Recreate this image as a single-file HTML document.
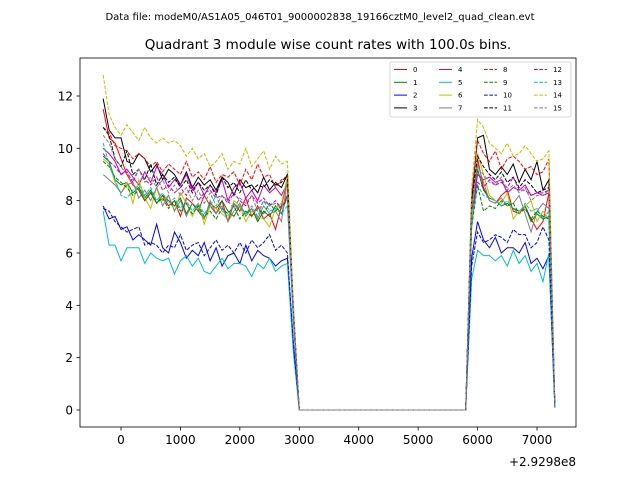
<!DOCTYPE html>
<html><head><meta charset="utf-8">
<style>
body{margin:0;background:#fff;}
svg text{font-family:"DejaVu Sans","Liberation Sans",sans-serif;}
</style></head>
<body>
<svg id="chart" width="640" height="480" xmlns="http://www.w3.org/2000/svg">
<rect width="640" height="480" fill="#fff"/>
<text x="320" y="20" font-size="10" text-anchor="middle">Data file: modeM0/AS1A05_046T01_9000002838_19166cztM0_level2_quad_clean.evt</text>
<text x="328" y="49" font-size="13.5" text-anchor="middle">Quadrant 3 module wise count rates with 100.0s bins.</text>
<g id="plot"></g>
<g id="axes"></g>
<g id="legend"></g>
<text x="576" y="466" font-size="12" text-anchor="end">+2.9298e8</text>
</svg>
<script>
const xTicks = [0,1000,2000,3000,4000,5000,6000,7000];
const yTicks = [0,2,4,6,8,10,12];
const gap = [0,0,0,0,0,0,0,0,0,0,0,0,0,0,0,0,0,0,0,0,0,0,0,0,0,0,0,0,0];
const s0a=[11.5,10.4,10.2,9.6,9.0,8.6,8.4,8.0,8.3,7.9,8.2,7.8,8.0,7.4,8.1,7.9,7.6,8.2,7.8,7.5,8.0,7.2,7.9,7.6,8.1,7.4,7.8,7.3,7.5,6.9,7.8,8.8,3.5];
const s0b=[7.5,9.6,8.5,8.0,7.9,8.2,8.4,7.6,7.5,7.8,7.3,6.9,7.2,8.3,0.2];
const s1a=[9.7,9.5,8.8,8.6,8.7,8.3,8.5,8.1,8.4,7.9,8.2,8.0,7.8,8.1,7.5,7.9,7.6,7.3,7.9,7.7,8.0,7.6,7.4,7.8,7.5,7.7,7.2,7.6,7.4,7.8,7.5,8.2,3.6];
const s1b=[7.0,9.2,8.4,8.1,8.0,7.8,7.9,7.7,7.6,7.8,7.2,7.5,7.3,7.4,0.2];
const s2a=[7.8,7.3,7.4,6.9,7.0,6.5,6.7,6.5,6.3,7.1,6.2,6.0,6.8,6.4,5.8,6.1,5.9,6.4,5.7,6.2,5.5,5.9,6.0,5.6,6.3,5.7,6.1,5.9,5.8,5.5,5.7,5.8,2.5];
const s2b=[5.8,7.2,6.5,6.2,6.6,6.0,6.2,6.2,6.0,6.4,5.6,5.8,5.4,5.9,0.1];
const s3a=[11.9,10.7,10.4,10.4,9.5,9.4,9.8,9.6,9.1,9.4,8.8,9.2,9.0,8.6,9.1,8.5,8.9,8.6,8.8,8.4,8.9,8.7,8.2,8.8,8.5,8.6,8.3,8.9,8.4,8.7,8.5,9.0,3.8];
const s3b=[8.0,10.4,10.5,9.2,9.0,9.3,9.0,9.4,8.7,9.2,8.8,9.5,8.4,8.8,0.2];
const s4a=[10.0,9.8,9.5,9.0,9.2,8.9,8.6,9.1,8.7,9.3,9.0,8.5,8.8,8.6,9.0,8.4,8.7,8.2,8.6,8.3,8.8,8.0,8.5,8.7,8.1,8.4,8.0,8.6,8.3,8.5,8.2,8.7,3.6];
const s4b=[7.5,9.0,8.8,8.9,8.7,8.8,8.3,8.5,8.4,8.6,8.2,8.3,8.2,8.3,0.2];
const s5a=[7.6,6.3,6.3,5.7,6.2,6.2,6.2,5.6,6.0,5.8,5.7,5.8,5.2,5.7,5.9,5.5,5.8,5.3,5.2,5.5,5.8,5.4,5.6,5.6,5.5,5.1,5.6,5.4,5.8,5.3,5.5,5.6,2.2];
const s5b=[5.0,6.1,5.9,5.9,5.7,5.9,5.5,6.1,5.6,5.9,5.3,5.6,4.9,6.0,0.1];
const s6a=[9.6,9.4,8.7,8.3,8.7,7.9,8.8,8.1,7.7,8.5,8.0,8.2,7.6,8.3,7.9,7.4,7.9,7.1,7.8,7.7,7.5,7.3,8.0,7.8,7.2,7.6,7.4,7.3,7.0,7.7,7.9,8.9,3.7];
const s6b=[7.2,9.8,9.0,8.2,8.0,7.9,8.3,7.3,7.6,7.8,8.0,7.2,7.6,7.3,0.2];
const s7a=[9.0,8.8,8.6,8.3,8.6,8.7,8.1,8.4,8.0,8.5,7.8,8.2,7.6,8.0,7.4,7.9,7.7,7.3,8.0,7.5,7.8,7.2,7.6,7.9,7.4,7.7,7.3,7.8,7.5,7.6,7.2,8.8,3.6];
const s7b=[7.8,9.4,8.7,8.0,7.9,8.1,7.8,7.9,8.2,7.5,6.8,7.6,7.9,7.7,0.2];
const s8a=[10.8,10.6,10.1,10.0,9.9,9.6,9.8,9.6,9.3,9.5,9.1,9.4,9.2,9.0,9.5,8.9,9.1,8.8,9.3,8.7,9.0,8.9,9.1,8.6,9.2,8.8,9.4,8.9,9.0,8.5,8.8,8.9,4.0];
const s8b=[8.2,10.3,9.8,9.5,9.9,9.2,9.6,9.7,9.5,9.2,9.3,9.0,9.1,9.6,0.2];
const s9a=[9.5,9.3,8.9,8.7,8.5,8.2,8.4,8.0,8.3,7.9,8.1,7.7,8.0,7.6,7.9,7.5,7.8,7.4,7.6,7.3,7.7,7.5,7.8,7.3,7.6,7.4,7.7,7.5,7.9,7.6,7.8,8.0,3.5];
const s9b=[7.0,8.6,7.6,7.8,7.7,8.0,7.8,7.9,7.5,7.7,7.3,7.6,7.4,7.3,0.2];
const s10a=[7.7,7.6,7.2,7.0,6.8,6.9,7.0,6.3,6.4,6.3,6.0,6.3,6.2,6.7,6.1,6.3,6.4,5.9,6.2,6.5,6.1,6.3,6.0,6.4,6.0,6.5,6.2,6.4,6.7,6.1,6.3,6.0,2.6];
const s10b=[5.5,6.8,6.4,6.5,6.7,6.6,6.4,6.9,6.7,6.7,6.2,6.4,7.0,6.5,0.1];
const s11a=[10.8,10.5,9.6,9.3,9.9,9.0,9.2,8.8,9.4,8.6,9.0,8.7,8.9,8.5,8.8,8.3,8.7,8.4,8.6,8.2,8.9,8.5,8.7,8.3,8.8,8.4,8.6,8.5,8.8,8.6,8.7,9.0,3.8];
const s11b=[8.0,9.7,9.3,9.0,8.8,9.1,8.7,8.9,8.5,8.8,8.6,8.3,8.4,8.5,0.2];
const s12a=[9.8,9.5,9.3,9.0,9.1,8.7,9.2,8.8,8.6,8.9,8.4,8.6,8.3,8.5,8.2,8.6,8.0,8.3,8.4,8.1,8.2,7.9,8.3,8.0,7.8,8.2,7.9,8.1,7.8,8.0,7.7,8.2,3.6];
const s12b=[7.6,8.7,8.5,8.8,8.6,8.7,8.5,8.9,8.4,8.4,8.2,8.3,8.3,8.4,0.2];
const s13a=[10.2,9.4,8.8,8.2,8.1,8.4,8.6,8.2,8.5,8.0,8.3,7.9,8.1,7.7,8.0,7.6,7.9,7.5,7.8,8.2,7.6,7.4,7.9,7.7,7.5,7.8,7.4,8.0,7.6,7.7,7.5,7.8,3.5];
const s13b=[7.2,8.6,8.2,8.1,8.0,7.8,8.0,7.7,7.5,7.9,7.6,7.7,7.3,7.6,0.2];
const s14a=[12.8,11.3,10.8,10.5,10.9,10.6,10.3,10.8,10.4,10.2,10.4,10.2,10.3,10.1,9.7,10.0,9.6,9.8,9.3,9.5,9.8,9.2,9.5,9.4,10.0,9.3,9.6,9.9,9.2,9.7,9.4,9.5,4.1];
const s14b=[8.5,11.1,10.8,10.2,10.0,9.8,10.2,9.7,9.8,10.1,9.8,9.5,9.6,9.9,0.2];
const s15a=[10.5,10.2,9.6,9.3,9.0,8.8,9.2,8.7,8.9,8.5,8.8,8.3,8.6,8.2,8.5,8.0,8.4,7.9,8.3,7.8,8.2,8.0,7.7,8.1,7.9,8.2,7.6,8.0,7.8,7.9,7.7,8.3,3.6];
const s15b=[7.8,9.3,9.0,8.7,8.6,8.9,8.4,8.6,8.3,8.5,8.0,8.2,8.2,8.4,0.2];
const seriesA=[s0a,s1a,s2a,s3a,s4a,s5a,s6a,s7a,s8a,s9a,s10a,s11a,s12a,s13a,s14a,s15a];
const seriesB=[s0b,s1b,s2b,s3b,s4b,s5b,s6b,s7b,s8b,s9b,s10b,s11b,s12b,s13b,s14b,s15b];
const labels=["0","1","2","3","4","5","6","7","8","9","10","11","12","13","14","15"];
const tStart=-300, tStep=100;

const NS="http://www.w3.org/2000/svg";
const colors=["#ff0000","#008000","#0000ff","#000000","#bf00bf","#00bfbf","#bfbf00","#808080"];
const L=80,R=576,T=58,B=427;
const xs=t=>121+(t-0)*(537-121)/7000;
const ys=v=>410-v*(410-96)/12;
function mk(tag,attrs,parent){const e=document.createElementNS(NS,tag);for(const k in attrs)e.setAttribute(k,attrs[k]);parent.appendChild(e);return e;}
const plot=document.getElementById('plot');
const axes=document.getElementById('axes');
const legend=document.getElementById('legend');

seriesA.forEach((a,i)=>{
  const vals=a.concat(gap,seriesB[i]);
  const pts=vals.map((v,j)=>xs(tStart+j*tStep).toFixed(2)+","+ys(v).toFixed(2)).join(" ");
  const pl=mk('polyline',{points:pts,fill:'none',stroke:colors[i%8],'stroke-width':1,'stroke-dasharray':i>=8?'3.7,1.6':'none'},plot);
  
  
});

const frame=mk('rect',{x:L,y:T,width:R-L,height:B-T,fill:'none',stroke:'#000','stroke-width':0.8},axes);


xTicks.forEach(t=>{
  const x=xs(t);
  mk('line',{x1:x,x2:x,y1:B,y2:B+3.5,stroke:'#000','stroke-width':0.8},axes);
  const tx=mk('text',{x:x,y:B+17,'font-size':12,'text-anchor':'middle'},axes);
  tx.textContent=String(t);
  
  
});
yTicks.forEach(v=>{
  const y=ys(v);
  mk('line',{x1:L-3.5,x2:L,y1:y,y2:y,stroke:'#000','stroke-width':0.8},axes);
  const tx=mk('text',{x:L-7,y:y+4.5,'font-size':12,'text-anchor':'end'},axes);
  tx.textContent=String(v);
  
  
});

const lb=mk('rect',{x:390,y:62,width:181,height:55,rx:2,fill:'#fff','fill-opacity':0.8,stroke:'#ccc','stroke-width':0.8},legend);


const colX=[394,439,484,534];
labels.forEach((lab,i)=>{
  const c=Math.floor(i/4), r=i%4;
  const x=colX[c], y=69.5+r*12.8;
  const g=mk('g',{},legend);
  
  
  mk('line',{x1:x,x2:x+13,y1:y,y2:y,stroke:colors[i%8],'stroke-width':1,'stroke-dasharray':i>=8?'3.7,1.6':'none'},g);
  const t=mk('text',{x:x+19,y:y+2.5,'font-size':7},g);
  t.textContent=lab;
});
</script>
</body></html>
